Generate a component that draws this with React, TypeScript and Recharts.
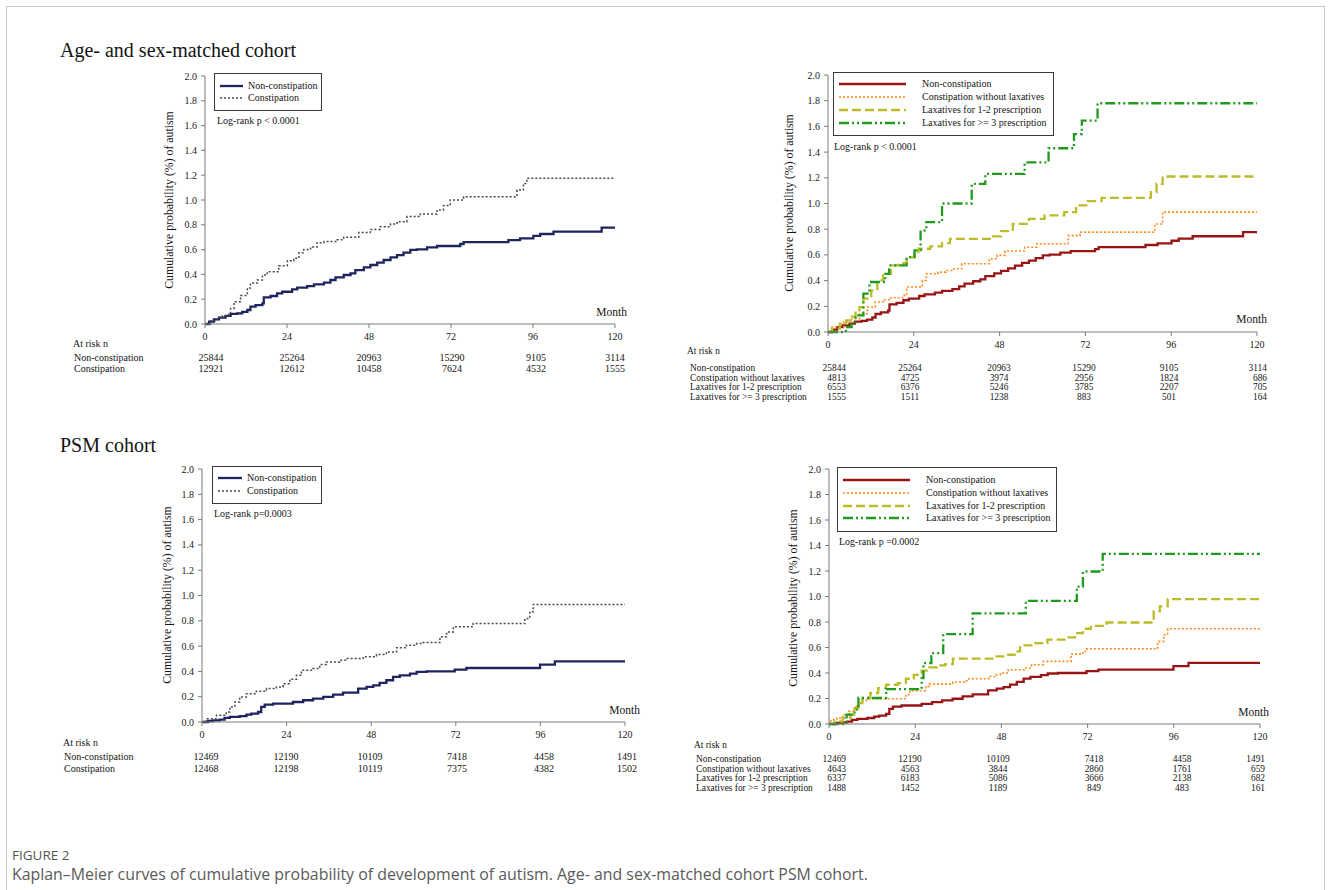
import React from 'react';
import { LineChart, Line, XAxis, YAxis } from 'recharts';

type Pt = [number, number];

// month, cumulative probability (%)
const ageNonConst: Pt[] = [[0,0],[1.2,0.019],[2.6,0.038],[4.1,0.051],[6,0.065],[7.5,0.081],[9.4,0.086],[10.9,0.097],[12.4,0.113],[13.3,0.14],[14.8,0.153],[16.8,0.167],[17.2,0.215],[19.2,0.226],[21.1,0.247],[22.6,0.26],[25.5,0.28],[27,0.293],[29.9,0.306],[31.9,0.32],[34.8,0.333],[36.7,0.355],[38.2,0.376],[40.6,0.395],[42.6,0.409],[44,0.435],[46.5,0.457],[48.4,0.476],[50.4,0.495],[52.3,0.516],[54.3,0.538],[56.2,0.556],[58.1,0.575],[60.1,0.597],[62,0.602],[65,0.618],[67.9,0.629],[74.7,0.645],[75.7,0.661],[88.8,0.677],[92.2,0.69],[96.1,0.71],[98.1,0.726],[102,0.745],[116.1,0.777],[120,0.777]];
const ageConst: Pt[] = [[0,0],[1.7,0.027],[3.6,0.054],[5.1,0.067],[7,0.081],[7.5,0.126],[8.5,0.18],[10.4,0.23],[12.4,0.29],[13.3,0.33],[15.3,0.355],[16.8,0.395],[18.2,0.422],[21.6,0.47],[24.1,0.51],[26,0.53],[27.5,0.575],[28.9,0.6],[30.9,0.62],[32.8,0.656],[34.8,0.665],[38.7,0.68],[40.6,0.7],[45,0.737],[48.4,0.763],[51.3,0.785],[54.3,0.806],[56.2,0.825],[59.1,0.866],[63,0.887],[67.9,0.92],[69.8,0.955],[71.8,1.0],[75.7,1.027],[91.3,1.08],[93.2,1.134],[94.2,1.175],[120,1.175]];
const ageNoLax: Pt[] = [[0,0],[1.1,0.039],[4.4,0.078],[6.6,0.104],[8.8,0.142],[11,0.194],[13.2,0.233],[15.4,0.251],[17.6,0.267],[20.9,0.285],[22,0.35],[26.4,0.401],[27.5,0.453],[30.8,0.466],[33,0.479],[35.2,0.492],[37.4,0.531],[45.1,0.57],[47.3,0.596],[49.5,0.63],[55,0.66],[58.4,0.687],[67.2,0.75],[70.5,0.777],[91.4,0.84],[93.6,0.933],[120,0.933]];
const ageLax12: Pt[] = [[0,0],[1.1,0.026],[3.3,0.065],[5,0.09],[6.6,0.12],[7.7,0.168],[8.8,0.194],[9.9,0.259],[12.1,0.324],[13.8,0.402],[15.4,0.453],[17.6,0.518],[19.8,0.536],[22,0.58],[24.2,0.622],[25.3,0.648],[28.6,0.666],[31.9,0.692],[34.1,0.725],[46.2,0.744],[48.4,0.785],[51.7,0.842],[56.2,0.881],[60.6,0.907],[66.1,0.933],[69.4,0.985],[72.7,1.018],[76.5,1.044],[90.3,1.088],[91.9,1.153],[93.6,1.21],[120,1.21]];
const ageLax3: Pt[] = [[0,0],[5,0.039],[6.6,0.065],[7.7,0.13],[9.9,0.298],[11.6,0.389],[16,0.453],[17.1,0.518],[22,0.583],[24.2,0.635],[25.9,0.79],[27.5,0.855],[31.9,1.0],[40.2,1.153],[44,1.23],[55,1.32],[61.7,1.43],[68.8,1.54],[71,1.645],[75.4,1.78],[120,1.78]];

const psmNonConst: Pt[] = [[0,0],[1.7,0.008],[3.1,0.013],[5,0.018],[6.4,0.032],[7.9,0.04],[10.7,0.047],[12.6,0.058],[14,0.066],[15.9,0.079],[16.8,0.119],[17.8,0.137],[20.2,0.145],[25.8,0.158],[28.7,0.172],[31.5,0.185],[34.4,0.198],[37.2,0.216],[40,0.232],[44.3,0.264],[46.7,0.277],[48.6,0.29],[50.4,0.309],[52.3,0.33],[54.2,0.356],[56.1,0.369],[59,0.383],[60.9,0.396],[63.7,0.4],[71.7,0.414],[75,0.427],[95.9,0.454],[100.1,0.48],[120,0.48]];
const psmConst: Pt[] = [[0,0],[1.2,0.026],[4.1,0.053],[6.9,0.079],[7.9,0.119],[9.3,0.158],[10.7,0.198],[12.6,0.224],[15.4,0.243],[18.3,0.264],[21.1,0.277],[23,0.303],[24.9,0.338],[26.8,0.369],[28.2,0.409],[31.5,0.422],[33.4,0.454],[35.3,0.475],[39.1,0.488],[41,0.501],[45.7,0.515],[49.5,0.533],[52.3,0.554],[55.2,0.586],[58,0.607],[60.9,0.62],[62.7,0.628],[67.5,0.673],[69.4,0.712],[71.3,0.752],[76.9,0.778],[91.6,0.818],[93,0.871],[94,0.929],[120,0.929]];
const psmNoLax: Pt[] = [[0,0],[0.5,0.034],[2.2,0.047],[3.8,0.073],[5.5,0.099],[7.1,0.138],[8.2,0.164],[9.3,0.183],[10.4,0.198],[21.4,0.23],[22.5,0.261],[26.9,0.295],[27.9,0.313],[34.5,0.329],[37.8,0.339],[38.9,0.355],[44.4,0.373],[46.6,0.386],[47.7,0.4],[49.9,0.426],[54.3,0.439],[56.4,0.465],[59.7,0.491],[67.4,0.548],[70.7,0.569],[71.8,0.59],[91.5,0.648],[93.2,0.7],[94.3,0.747],[120,0.747]];
const psmLax12: Pt[] = [[0,0],[1.6,0.021],[3.8,0.047],[6,0.073],[7.1,0.125],[8.2,0.164],[9.3,0.204],[11.5,0.243],[13.7,0.282],[15.9,0.308],[19.2,0.321],[21.4,0.355],[23.6,0.386],[25.8,0.418],[27.9,0.444],[30.1,0.46],[32.3,0.47],[34.5,0.512],[45.5,0.53],[49.9,0.543],[52.1,0.569],[53.2,0.616],[57.5,0.634],[60.8,0.661],[66.3,0.679],[68.5,0.713],[70.7,0.747],[72.9,0.77],[77.3,0.796],[90.4,0.883],[92.1,0.922],[94.3,0.98],[120,0.98]];
const psmLax3: Pt[] = [[0,0],[4.9,0.073],[7.1,0.112],[8.2,0.204],[15.9,0.274],[25.8,0.36],[26.3,0.478],[28.5,0.556],[31.8,0.705],[40,0.867],[54.8,0.966],[69,1.078],[70.7,1.196],[76.2,1.334],[120,1.334]];

// at-risk numbers at 0, 24, 48, 72, 96, 120 months
const xTicks = [0, 24, 48, 72, 96, 120];
const yTicks = [0, 0.2, 0.4, 0.6, 0.8, 1.0, 1.2, 1.4, 1.6, 1.8, 2.0];

const ageRiskNonConst = [25844, 25264, 20963, 15290, 9105, 3114];
const ageRiskConst = [12921, 12612, 10458, 7624, 4532, 1555];
const ageRiskNoLax = [4813, 4725, 3974, 2956, 1824, 686];
const ageRiskLax12 = [6553, 6376, 5246, 3785, 2207, 705];
const ageRiskLax3 = [1555, 1511, 1238, 883, 501, 164];

const psmRiskNonConst = [12469, 12190, 10109, 7418, 4458, 1491];
const psmRiskConst = [12468, 12198, 10119, 7375, 4382, 1502];
const psmRiskNoLax = [4643, 4563, 3844, 2860, 1761, 659];
const psmRiskLax12 = [6337, 6183, 5086, 3666, 2138, 682];
const psmRiskLax3 = [1488, 1452, 1189, 849, 483, 161];

const FONT = '"Liberation Serif", "Times New Roman", serif';
const Y_TITLE = 'Cumulative probability (%) of autism';

const STYLES: Record<string, any> = {
  navy: { stroke: '#1e245e', strokeWidth: 2.3 },
  grayDot: { stroke: '#4a4a4a', strokeWidth: 1.5, strokeDasharray: '2 2' },
  red: { stroke: '#981515', strokeWidth: 2.3 },
  orange: { stroke: '#ff8a1c', strokeWidth: 1.6, strokeDasharray: '2 2' },
  olive: { stroke: '#bcbc2a', strokeWidth: 2.3, strokeDasharray: '9 4' },
  green: { stroke: '#1f9a1f', strokeWidth: 2.3, strokeDasharray: '10 3 2 3 2 3' },
};

const toRows = (pts: Pt[]) => pts.map(([t, p]) => ({ t, p }));

const Txt = ({ x, y, children, size = 10, align = 'left', style = {} }: any) => {
  const tx = align === 'center' ? '-50%' : align === 'right' ? '-100%' : '0';
  return (
    <div
      style={{
        position: 'absolute', left: x, top: y, transform: `translate(${tx}, -50%)`,
        fontSize: size, lineHeight: 1, whiteSpace: 'nowrap', fontFamily: FONT, color: '#141414', ...style,
      }}
    >
      {children}
    </div>
  );
};

const KMPanel = ({ cfg }: any) => {
  const { x0, x1, y0, y1, series } = cfg;
  const YW = 90;
  const left = x0 - YW;
  const top = y0 - 10;
  const width = x1 - x0 + YW + 40;
  const height = y1 - y0 + 10 + 25;
  const axisStyle = {
    axisLine: { stroke: '#7a7a7a' },
    tickLine: { stroke: '#7a7a7a' },
    tick: { fill: '#1a1a1a', fontSize: 10, fontFamily: FONT },
    tickSize: 4,
  };
  const lg = cfg.legend;
  const rk = cfg.risk;
  return (
    <>
      <div style={{ position: 'absolute', left, top, fontFamily: FONT }}>
        <LineChart width={width} height={height} margin={{ top: 10, right: 40, bottom: 0, left: 0 }}>
          <XAxis type="number" dataKey="t" domain={[0, 120]} ticks={xTicks} height={25} tickMargin={5} {...axisStyle} />
          <YAxis type="number" dataKey="p" domain={[0, 2]} ticks={yTicks} width={YW} tickMargin={4}
            tickFormatter={(v: number) => v.toFixed(1)} {...axisStyle} />
          {series.map((s: any) => (
            <Line key={s.name} data={toRows(s.pts)} dataKey="p" type="stepAfter" dot={false}
              activeDot={false} isAnimationActive={false} {...STYLES[s.style]} />
          ))}
        </LineChart>
      </div>
      {/* y axis title */}
      <div style={{
        position: 'absolute', left: cfg.yTitle[0], top: cfg.yTitle[1], transform: 'translate(-50%, -50%) rotate(-90deg)',
        fontFamily: FONT, fontSize: 11.8, lineHeight: 1, whiteSpace: 'nowrap', color: '#141414',
      }}>{Y_TITLE}</div>
      {/* legend box */}
      <div style={{ position: 'absolute', left: lg.x, top: lg.y, width: lg.w, height: lg.h, border: '1px solid #3a3a3a', background: '#fff', boxSizing: 'border-box' }} />
      {series.map((s: any, i: number) => (
        <React.Fragment key={'lg' + i}>
          <svg style={{ position: 'absolute', left: lg.sx0, top: lg.rows[i] - 3 }} width={lg.sx1 - lg.sx0} height={6}>
            <line x1={0} x2={lg.sx1 - lg.sx0} y1={3} y2={3} {...STYLES[s.style]} />
          </svg>
          <Txt x={lg.tx} y={lg.rows[i]}>{s.name}</Txt>
        </React.Fragment>
      ))}
      <Txt x={cfg.logRank[0]} y={cfg.logRank[1]}>{cfg.logRank[2]}</Txt>
      <Txt x={cfg.month[0]} y={cfg.month[1]} size={11.5} align="right">Month</Txt>
      {/* at-risk table */}
      <Txt x={rk.headX} y={rk.headY} size={rk.size}>At risk n</Txt>
      {series.map((s: any, i: number) => (
        <React.Fragment key={'rk' + i}>
          <Txt x={rk.labelX} y={rk.rows[i]} size={rk.size}>{s.name}</Txt>
          {s.risk.map((n: number, j: number) => (
            <Txt key={j} x={rk.cols[j][0]} y={rk.rows[i]} size={rk.size} align={rk.cols[j][1]}>{n}</Txt>
          ))}
        </React.Fragment>
      ))}
    </>
  );
};

const panels = [
  {
    x0: 205, x1: 615, y0: 76, y1: 324,
    yTitle: [170, 200],
    series: [
      { name: 'Non-constipation', pts: ageNonConst, style: 'navy', risk: ageRiskNonConst },
      { name: 'Constipation', pts: ageConst, style: 'grayDot', risk: ageRiskConst },
    ],
    legend: { x: 214, y: 73, w: 108, h: 38, rows: [85.5, 97.5], sx0: 220, sx1: 243, tx: 248 },
    logRank: [217, 121, 'Log-rank p < 0.0001'],
    month: [627, 313],
    risk: { size: 10, headX: 73, headY: 344, labelX: 74, rows: [358, 369],
      cols: [[211, 'center'], [292, 'center'], [369, 'center'], [452, 'center'], [536, 'center'], [615, 'center']] },
  },
  {
    x0: 828, x1: 1257, y0: 75, y1: 332,
    yTitle: [790, 203],
    series: [
      { name: 'Non-constipation', pts: ageNonConst, style: 'red', risk: ageRiskNonConst },
      { name: 'Constipation without laxatives', pts: ageNoLax, style: 'orange', risk: ageRiskNoLax },
      { name: 'Laxatives for 1-2 prescription', pts: ageLax12, style: 'olive', risk: ageRiskLax12 },
      { name: 'Laxatives for >= 3 prescription', pts: ageLax3, style: 'green', risk: ageRiskLax3 },
    ],
    legend: { x: 833, y: 72, w: 221, h: 64, rows: [84.3, 97.3, 110, 122.7], sx0: 839, sx1: 906, tx: 922 },
    logRank: [834, 147, 'Log-rank p < 0.0001'],
    month: [1267, 320],
    risk: { size: 9.4, headX: 687, headY: 352, labelX: 690, rows: [369, 378.5, 388, 397.5],
      cols: [[846, 'right'], [910, 'center'], [999, 'center'], [1084, 'center'], [1169, 'center'], [1267, 'right']] },
  },
  {
    x0: 202, x1: 625, y0: 469, y1: 722,
    yTitle: [168, 595],
    series: [
      { name: 'Non-constipation', pts: psmNonConst, style: 'navy', risk: psmRiskNonConst },
      { name: 'Constipation', pts: psmConst, style: 'grayDot', risk: psmRiskConst },
    ],
    legend: { x: 212, y: 466, w: 110, h: 38, rows: [478.3, 491], sx0: 218, sx1: 242, tx: 247 },
    logRank: [214, 514, 'Log-rank p=0.0003'],
    month: [640, 711],
    risk: { size: 10, headX: 63, headY: 743, labelX: 64, rows: [757, 769],
      cols: [[206, 'center'], [286, 'center'], [370, 'center'], [457, 'center'], [544, 'center'], [627, 'center']] },
  },
  {
    x0: 829, x1: 1260, y0: 469, y1: 724,
    yTitle: [794, 598],
    series: [
      { name: 'Non-constipation', pts: psmNonConst, style: 'red', risk: psmRiskNonConst },
      { name: 'Constipation without laxatives', pts: psmNoLax, style: 'orange', risk: psmRiskNoLax },
      { name: 'Laxatives for 1-2 prescription', pts: psmLax12, style: 'olive', risk: psmRiskLax12 },
      { name: 'Laxatives for >= 3 prescription', pts: psmLax3, style: 'green', risk: psmRiskLax3 },
    ],
    legend: { x: 837, y: 467, w: 220, h: 65, rows: [480, 493, 505.7, 518.3], sx0: 843, sx1: 910, tx: 926 },
    logRank: [839, 542, 'Log-rank p =0.0002'],
    month: [1269, 713],
    risk: { size: 9.4, headX: 694, headY: 746, labelX: 696, rows: [760, 769.5, 779, 788.5],
      cols: [[846, 'right'], [910, 'center'], [998, 'center'], [1094, 'center'], [1182, 'center'], [1265, 'right']] },
  },
];

export default function App() {
  return (
    <div style={{ position: 'fixed', left: 0, top: 0, width: 1330, height: 890, overflow: 'hidden', background: '#fff', fontFamily: FONT }}>
      <div style={{ position: 'absolute', left: 6, top: 6, width: 1319, height: 920, border: '1px solid #c9c9c9', boxSizing: 'border-box' }} />
      <Txt x={60} y={50} size={20}>Age- and sex-matched cohort</Txt>
      <Txt x={60} y={445} size={20}>PSM cohort</Txt>
      {panels.map((p, i) => <KMPanel key={i} cfg={p} />)}
      <Txt x={12} y={856} size={13.5} style={{ fontFamily: '"Open Sans", sans-serif', color: '#555' }}>FIGURE 2</Txt>
      <Txt x={12} y={875} size={15.9} style={{ fontFamily: '"Open Sans", sans-serif', color: '#5a5a5a' }}>
        Kaplan–Meier curves of cumulative probability of development of autism. Age- and sex-matched cohort PSM cohort.
      </Txt>
    </div>
  );
}
